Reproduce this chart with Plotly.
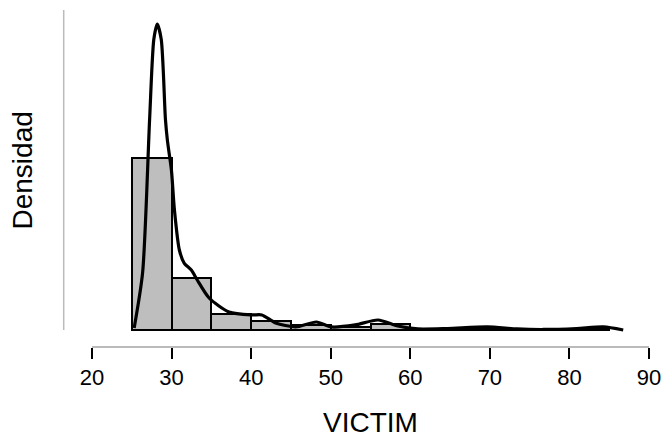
import plotly.graph_objects as go

# Histogram (density scale), bins of width 5 from 25 to 85
bin_edges = [25, 30, 35, 40, 45, 50, 55, 60, 65, 70, 75, 80, 85]
bar_density = [0.129, 0.039, 0.012, 0.0067, 0.0034, 0.0022, 0.0045, 0.0008, 0.0011, 0.0008, 0.0004, 0.0008]

# Kernel density curve
kde_x = [25.3, 26.36, 27.24, 27.77, 28.2, 28.7, 29.23, 29.48, 29.98, 30.36, 30.98, 31.6, 32.48,
         33.23, 34.72, 37.22, 40.09, 41.34, 43.08, 45.58, 48.2, 50.07, 53.07, 55.94, 58.43,
         60.93, 64.67, 69.66, 73.4, 76.77, 80.9, 84.26, 86.76]
kde_y = [0.0015, 0.043, 0.158, 0.218, 0.2295, 0.218, 0.158, 0.142, 0.12, 0.09, 0.06, 0.05, 0.045,
         0.0375, 0.024, 0.0135, 0.0113, 0.0113, 0.0053, 0.0023, 0.006, 0.0023, 0.0038, 0.0075, 0.003,
         0.0008, 0.0011, 0.0023, 0.0008, 0.0004, 0.0011, 0.0023, 0.0]

x_ticks = [20, 30, 40, 50, 60, 70, 80, 90]

mids = [(a + b) / 2 for a, b in zip(bin_edges[:-1], bin_edges[1:])]
widths = [b - a for a, b in zip(bin_edges[:-1], bin_edges[1:])]

fig = go.Figure()
fig.add_trace(go.Bar(x=mids, y=bar_density, width=widths,
                     marker=dict(color="#BEBEBE", line=dict(color="black", width=2)),
                     hoverinfo="skip"))
fig.add_trace(go.Scatter(x=kde_x, y=kde_y, mode="lines",
                         line=dict(color="black", width=3.2, shape="spline", smoothing=0.7),
                         hoverinfo="skip"))

FONT = "Liberation Sans, Arial, sans-serif"
L, R = 92, 18
W = 671 - L - R
fig.update_layout(
    width=671, height=443,
    margin=dict(l=L, r=R, t=10, b=97),
    paper_bgcolor="white", plot_bgcolor="white",
    showlegend=False,
    bargap=0,
    font=dict(family=FONT, color="black"),
    xaxis=dict(range=[20, 90], tickvals=x_ticks, ticktext=[str(v) for v in x_ticks],
               showgrid=False, zeroline=False, showline=True, linecolor="#BBBBBB", linewidth=1.5,
               ticks="outside", ticklen=11, tickwidth=2, tickcolor="black",
               tickfont=dict(size=22, family=FONT, color="black")),
    yaxis=dict(range=[-0.012, 0.24], showgrid=False, zeroline=False, showline=False,
               showticklabels=False, ticks=""),
    shapes=[dict(type="line", xref="paper", yref="paper",
                 x0=(63.5 - L) / W, x1=(63.5 - L) / W,
                 y0=(346 - 330) / 336, y1=1,
                 line=dict(color="#BBBBBB", width=1.5))],
    annotations=[
        dict(text="VICTIM", xref="paper", yref="paper", x=(372 - L) / W, y=-(422 - 346) / 336,
             xanchor="center", yanchor="middle", showarrow=False,
             font=dict(size=28, family=FONT, color="black")),
        dict(text="Densidad", xref="paper", yref="paper", x=(22 - L) / W, y=(346 - 170) / 336,
             xanchor="center", yanchor="middle", showarrow=False, textangle=-90,
             font=dict(size=28, family=FONT, color="black")),
    ],
)

fig.write_html("out.html")
